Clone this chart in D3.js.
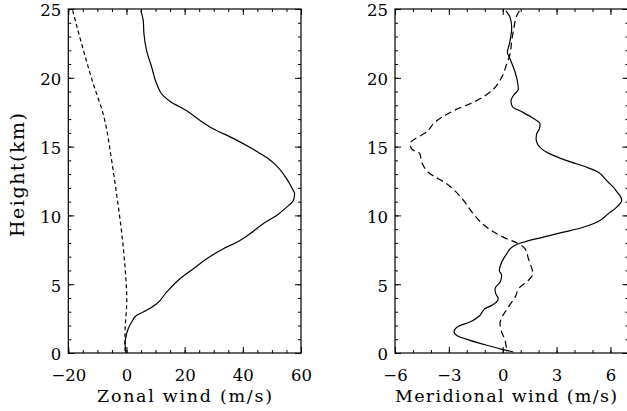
<!DOCTYPE html>
<html>
<head>
<meta charset="utf-8">
<script src="https://cdn.jsdelivr.net/npm/d3@7"></script>
<style>
  body { margin: 0; background: #fff; }
  text { font-family: "DejaVu Serif", "Liberation Serif", serif; fill: #000; }
</style>
</head>
<body>
<svg id="chart" width="627" height="411"></svg>
<script>
// Tick values
const heightTicks = [0, 5, 10, 15, 20, 25];
const zonalTicks = [-20, 0, 20, 40, 60];
const meridionalTicks = [-6, -3, 0, 3, 6];

// Wind profiles: [height (km), wind (m/s)]
const zonalSolid = [
  [24.9, 4.9], [24.1, 5.8], [23.2, 6.0], [22.0, 6.9], [20.75, 8.7], [19.55, 10.4],
  [18.7, 12.6], [18.3, 14.9], [17.6, 20.7], [16.9, 25.3], [16.3, 29.8], [15.6, 36.7],
  [14.8, 43.6], [14.2, 48.2], [13.6, 51.6], [12.65, 55.1], [11.9, 57.1], [11.6, 57.8],
  [11.1, 57.4], [10.6, 55.1], [10.0, 51.6], [9.4, 47.0], [8.66, 42.4], [8.05, 37.9],
  [7.58, 33.3], [6.85, 27.6], [6.12, 23.0], [5.4, 18.4], [4.43, 13.8], [3.58, 10.4],
  [3.1, 6.9], [2.74, 3.5], [2.25, 1.8], [1.77, 0.6], [1.16, -0.2], [0.68, -0.5],
  [0.32, -0.3], [0.0, -0.2]
];
const zonalDashed = [
  [24.9, -18.5], [22.45, -15.4], [19.55, -11.4], [17.37, -8.0], [14.0, -5.1],
  [11.1, -3.1], [8.66, -1.6], [6.24, -0.5], [3.82, 0.1], [1.41, -0.5], [0.07, -0.5]
];
const meridionalSolid = [
  [24.87, 0.18], [24.4, 0.41], [23.66, 0.5], [22.45, 0.37], [21.85, 0.26], [21.36, 0.41],
  [20.4, 0.69], [19.8, 0.81], [19.19, 0.87], [18.7, 0.59], [18.34, 0.46], [17.9, 0.54],
  [17.6, 0.96], [17.13, 1.61], [16.65, 2.08], [16.28, 2.04], [15.92, 1.89], [15.56, 1.86],
  [14.95, 2.08], [14.47, 2.63], [13.98, 3.57], [13.5, 4.68], [13.14, 5.33], [12.65, 5.70],
  [12.41, 5.88], [12.05, 6.16], [11.73, 6.35], [11.44, 6.53], [11.1, 6.63], [10.6, 6.35],
  [10.12, 5.88], [9.5, 5.24], [9.14, 4.49], [8.78, 3.38], [8.42, 2.26], [8.05, 1.15],
  [7.76, 0.59], [7.21, 0.22], [6.6, -0.06], [6.0, -0.19], [5.64, -0.06], [5.15, -0.15],
  [4.67, -0.43], [4.31, -0.39], [3.95, -0.25], [3.46, -0.61], [3.22, -0.99], [2.74, -1.26],
  [2.25, -1.82], [1.94, -2.47], [1.52, -2.71], [1.28, -2.56], [0.92, -1.82], [0.56, -0.89],
  [0.25, 0.03], [0.07, 0.59]
];
const meridionalDashed = [
  [24.87, 0.93], [24.4, 0.74], [23.66, 0.63], [22.7, 0.5], [21.73, 0.41], [21.0, 0.22],
  [20.03, -0.06], [19.06, -0.61], [18.34, -1.45], [17.6, -2.75], [16.65, -3.87], [16.16, -4.15],
  [15.2, -5.16], [14.83, -5.07], [14.47, -4.61], [13.86, -4.51], [13.14, -4.15], [12.3, -3.12],
  [11.1, -2.19], [10.12, -1.64], [9.14, -0.89], [8.42, 0.03], [7.94, 0.87], [7.58, 1.24],
  [6.85, 1.43], [5.76, 1.67], [5.28, 1.43], [4.79, 0.96], [4.06, 0.69], [3.34, 0.31],
  [2.13, -0.15], [1.52, -0.06], [0.92, 0.13], [0.07, 0.22]
];

const svg = d3.select("#chart");
const plotTop = 9, plotBottom = 353;
const y = d3.scaleLinear().domain([0, 25]).range([plotBottom, plotTop]);

const panels = [
  {
    x: d3.scaleLinear().domain([-20, 60]).range([68.3, 301]),
    majors: zonalTicks, minorStep: 5, title: "Zonal wind (m/s)",
    titleX: 184.5, titleLength: 175,
    series: [
      { data: zonalSolid, dash: null },
      { data: zonalDashed, dash: "4,3" }
    ]
  },
  {
    x: d3.scaleLinear().domain([-6, 7]).range([395, 628.4]),
    majors: meridionalTicks, minorStep: 1, title: "Meridional wind (m/s)",
    titleX: 506, titleLength: 222,
    series: [
      { data: meridionalSolid, dash: null },
      { data: meridionalDashed, dash: "7,4" }
    ]
  }
];

const heightMinors = d3.range(0, 25.001, 1);

panels.forEach(p => {
  const x = p.x;
  const [x0, x1] = x.range();
  const g = svg.append("g");
  const [d0, d1] = x.domain();
  const xMinors = d3.range(Math.ceil(d0 / p.minorStep) * p.minorStep, d1 + 1e-6, p.minorStep);

  // Minor ticks on all four sides
  g.append("g").attr("transform", `translate(0,${plotBottom})`)
    .call(d3.axisBottom(x).tickValues(xMinors).tickSize(-3).tickSizeOuter(0).tickFormat(""));
  g.append("g").attr("transform", `translate(0,${plotTop})`)
    .call(d3.axisTop(x).tickValues(xMinors).tickSize(-3).tickSizeOuter(0).tickFormat(""));
  g.append("g").attr("transform", `translate(${x0},0)`)
    .call(d3.axisLeft(y).tickValues(heightMinors).tickSize(-3).tickSizeOuter(0).tickFormat(""));
  g.append("g").attr("transform", `translate(${x1},0)`)
    .call(d3.axisRight(y).tickValues(heightMinors).tickSize(-3).tickSizeOuter(0).tickFormat(""));

  // Major ticks with labels
  const bx = g.append("g").attr("transform", `translate(0,${plotBottom})`)
    .call(d3.axisBottom(x).tickValues(p.majors).tickSize(-6).tickSizeOuter(0));
  bx.selectAll("text").attr("y", 27.5).attr("dy", null)
    .style("font-size", "16.5px");
  g.append("g").attr("transform", `translate(0,${plotTop})`)
    .call(d3.axisTop(x).tickValues(p.majors).tickSize(-6).tickSizeOuter(0).tickFormat(""));
  const ly = g.append("g").attr("transform", `translate(${x0},0)`)
    .call(d3.axisLeft(y).tickValues(heightTicks).tickSize(-6).tickSizeOuter(0));
  ly.selectAll("text").attr("x", -7).attr("dy", "0.42em")
    .style("font-size", "16.5px");
  g.append("g").attr("transform", `translate(${x1},0)`)
    .call(d3.axisRight(y).tickValues(heightTicks).tickSize(-6).tickSizeOuter(0).tickFormat(""));

  g.selectAll(".domain").remove();
  g.selectAll(".tick line").attr("stroke", "#000").attr("stroke-width", 1);
  g.selectAll(".tick text").attr("fill", "#000").attr("font-family", null);

  // Plot frame
  g.append("rect")
    .attr("x", x0).attr("y", plotTop)
    .attr("width", x1 - x0).attr("height", plotBottom - plotTop)
    .attr("fill", "none").attr("stroke", "#000").attr("stroke-width", 1.2);

  // Profiles
  const line = d3.line().x(d => x(d[1])).y(d => y(d[0])).curve(d3.curveMonotoneY);
  p.series.forEach(s => {
    g.append("path")
      .datum(s.data)
      .attr("d", line)
      .attr("fill", "none")
      .attr("stroke", "#000")
      .attr("stroke-width", 1.2)
      .attr("stroke-dasharray", s.dash);
  });

  // Axis title
  g.append("text")
    .attr("x", p.titleX).attr("y", 402)
    .attr("text-anchor", "middle")
    .attr("textLength", p.titleLength)
    .style("font-size", "17.5px")
    .text(p.title);
});

svg.append("text")
  .attr("transform", "translate(24,175) rotate(-90)")
  .attr("text-anchor", "middle")
  .attr("textLength", 124)
  .style("font-size", "19px")
  .text("Height(km)");
</script>
</body>
</html>
